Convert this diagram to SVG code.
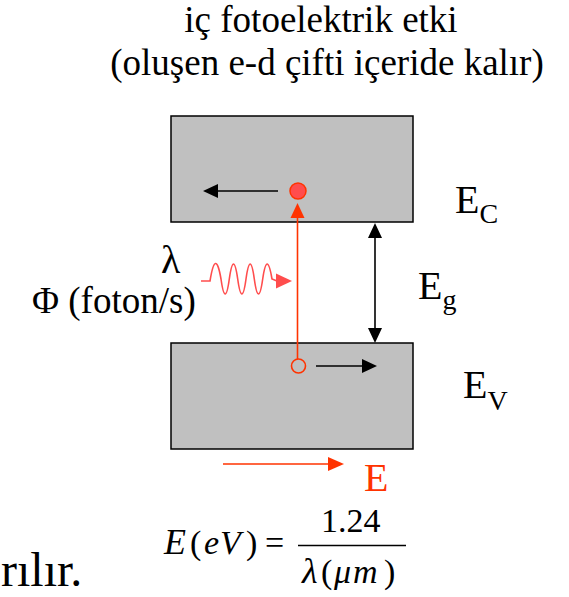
<svg xmlns="http://www.w3.org/2000/svg" width="569" height="597" viewBox="0 0 569 597">
<style>
.t{font-family:"Liberation Serif","Times New Roman",serif;fill:#000}
.i{font-style:italic}
.band{fill:#c0c0c0;stroke:#000;stroke-width:1.5}
.blk{stroke:#000;stroke-width:1.6;fill:none}
.red{stroke:#ff3300;stroke-width:1.6;fill:none}
</style>
<rect width="569" height="597" fill="#fff"/>
<g id="title">
<text class="t" x="321" y="32" font-size="37" text-anchor="middle">iç fotoelektrik etki</text>
<text class="t" x="327" y="75" font-size="37" text-anchor="middle">(oluşen e-d çifti içeride kalır)</text>
</g>
<g id="conduction-band">
<rect class="band" x="171" y="116" width="242" height="106"/>
<circle cx="298" cy="191" r="8" fill="#ff4d4d" stroke="#ff3300" stroke-width="1.5"/>
</g>
<g id="valence-band">
<rect class="band" x="171" y="343" width="242" height="106"/>
<circle cx="298.5" cy="366" r="7" fill="none" stroke="#ff3300" stroke-width="1.6"/>
</g>
<g id="connectors">
<line class="blk" x1="278" y1="191" x2="216" y2="191"/>
<polygon points="203,191 218,184 218,198" fill="#000"/>
<line class="blk" x1="316" y1="366" x2="364" y2="366"/>
<polygon points="377,366 362,359 362,373" fill="#000"/>
<line class="blk" x1="375" y1="236" x2="375" y2="330"/>
<polygon points="375,223 368,238 382,238" fill="#000"/>
<polygon points="375,343 368,328 382,328" fill="#000"/>
<line class="red" x1="297.5" y1="359" x2="297.5" y2="216"/>
<polygon points="297.5,203 290.5,218 304.5,218" fill="#ff3300"/>
<path d="M201,281 H210 Q215.5,247 221,279 Q225.2,309 229.3,279 Q233.5,249 237.7,279 Q241.9,309 246,279 Q250.2,249 254.3,279 Q258.5,309 262.7,279 Q267,249 272,279 L277,281" fill="none" stroke="#ff4d4d" stroke-width="1.6"/>
<polygon points="292,281 276,273.5 276,288.5" fill="#ff4d4d"/>
<line class="red" x1="223" y1="464" x2="331" y2="464"/>
<polygon points="344,464 328,457 328,471" fill="#ff3300"/>
</g>
<g id="labels">
<text class="t" x="455" y="213" font-size="40">E<tspan font-size="28" dy="10">C</tspan></text>
<text class="t" x="418" y="299" font-size="40">E<tspan font-size="28" dy="10">g</tspan></text>
<text class="t" x="463" y="398" font-size="40">E<tspan font-size="28" dy="12">V</tspan></text>
<text class="t" x="161" y="273" font-size="40">λ</text>
<text class="t" x="32" y="313" font-size="37">Φ (foton/s)</text>
<text x="364" y="491" font-size="40" font-family="Liberation Serif,serif" fill="#ff3300">E</text>
<text class="t" x="1" y="586" font-size="48">rılır.</text>
</g>
<g id="formula">
<text class="t i" font-size="34" y="554"><tspan x="164" font-size="36">E</tspan><tspan x="190" font-style="normal">(</tspan><tspan x="204">e</tspan><tspan x="220">V</tspan><tspan x="246" font-style="normal">)</tspan></text>
<text class="t" x="265" y="554" font-size="34">=</text>
<text class="t" x="321" y="532" font-size="34">1.24</text>
<line x1="298" y1="545.5" x2="406" y2="545.5" stroke="#000" stroke-width="1.4"/>
<text class="t i" font-size="34" y="583"><tspan x="302" font-size="36">λ</tspan><tspan x="321" font-style="normal">(</tspan><tspan x="334">μ</tspan><tspan x="353">m</tspan><tspan x="384" font-style="normal">)</tspan></text>
</g>
</svg>
